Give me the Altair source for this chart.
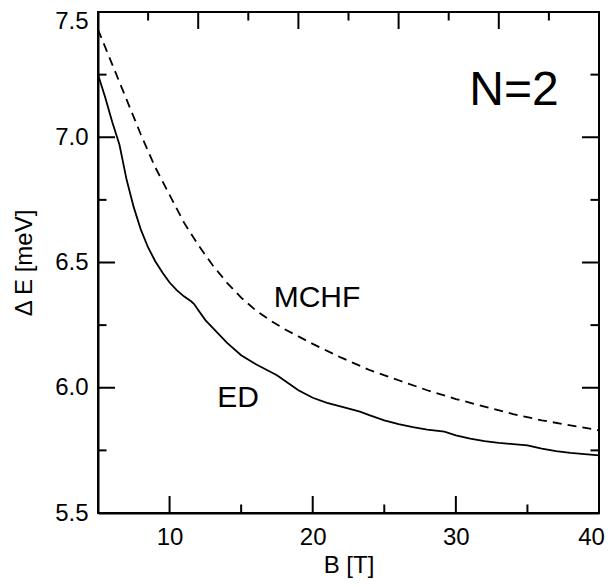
import altair as alt
import pandas as pd

# ED (exact diagonalization) curve
ed_b = [5, 5.5, 6, 6.5, 7, 7.5, 8, 8.5, 9, 9.5, 10, 10.5, 11, 11.5, 11.7, 12, 12.5, 13, 14, 15, 16, 17, 17.5,
        18, 19, 20, 21, 22, 23.3, 24, 25, 26, 27, 28, 29.2, 30, 31, 32, 33, 34, 35, 36, 37, 38, 39, 40]
ed_e = [7.25, 7.16, 7.06, 6.97, 6.83, 6.72, 6.63, 6.56, 6.505, 6.46, 6.42, 6.39, 6.365, 6.345, 6.335, 6.31, 6.27,
        6.24, 6.18, 6.13, 6.095, 6.065, 6.05, 6.03, 5.99, 5.96, 5.94, 5.925, 5.905, 5.89, 5.87, 5.855, 5.843, 5.833,
        5.825, 5.81, 5.797, 5.787, 5.78, 5.775, 5.77, 5.757, 5.747, 5.74, 5.735, 5.73]

# MCHF curve
mchf_b = [5, 6, 7, 8, 9, 10, 11, 12, 13, 14, 15, 16, 17, 18, 19, 20, 22, 24, 26, 28, 30, 32, 34, 36, 38, 40]
mchf_e = [7.43, 7.29, 7.15, 7.01, 6.88, 6.77, 6.66, 6.57, 6.49, 6.42, 6.36, 6.31, 6.27, 6.235, 6.205, 6.175,
          6.12, 6.07, 6.03, 5.99, 5.955, 5.925, 5.895, 5.87, 5.85, 5.83]

x_labels = [10, 20, 30, 40]
y_labels = [5.5, 6.0, 6.5, 7.0, 7.5]
x_major_bottom = [5, 10, 20, 30, 40]
x_minor_bottom = [15, 25, 35]
x_major_top = [5, 12, 19, 26, 33, 40]
x_minor_top = [8.5, 15.5, 22.5, 29.5, 36.5]
y_major = [5.5, 6.0, 6.5, 7.0, 7.5]
y_minor = [5.75, 6.25, 6.75, 7.25]

annot_text = ["MCHF", "ED"]
annot_x = [20.3, 14.78]
annot_y = [6.322, 5.923]
title_text = ["N=2"]
title_x = [34.06]
title_y = [7.129]

W, H = 501, 501
FONT = "Liberation Sans"

xs = alt.Scale(domain=[5, 40], nice=False, zero=False)
ys = alt.Scale(domain=[5.5, 7.5], nice=False, zero=False)

ed_df = pd.DataFrame({"B": ed_b, "E": ed_e})
mchf_df = pd.DataFrame({"B": mchf_b, "E": mchf_e})

base_x = alt.X("B:Q", scale=xs, title="B [T]",
               axis=alt.Axis(values=x_labels, ticks=False, grid=False, labelFontSize=24, labelFont=FONT,
                             labelColor="black", labelPadding=12, titleFont=FONT, titleFontSize=24,
                             titleFontWeight="normal", titleColor="black", titlePadding=4,
                             labelOffset={"condition": {"test": "datum.value >= 40", "value": -8}, "value": 0},
                             domainColor="black", domainWidth=2, format="d", labelFlush=False))
base_y = alt.Y("E:Q", scale=ys, title="Δ E [meV]",
               axis=alt.Axis(values=y_labels, ticks=False, grid=False, labelFontSize=24, labelFont=FONT,
                             labelColor="black", labelPadding=10, titleFont=FONT, titleFontSize=24,
                             titleFontWeight="normal", titleColor="black", titlePadding=18,
                             labelOffset={"condition": {"test": "datum.value >= 7.5", "value": 9}, "value": 0},
                             domainColor="black", domainWidth=2, format=".1f", labelFlush=False))

ed_line = alt.Chart(ed_df).mark_line(color="black", strokeWidth=1.8, clip=True).encode(x=base_x, y=base_y)
mchf_line = alt.Chart(mchf_df).mark_line(color="black", strokeWidth=1.8, strokeDash=[9, 6], clip=True).encode(
    x=alt.X("B:Q", scale=xs), y=alt.Y("E:Q", scale=ys))


def xticks(vals, y0, y1):
    return alt.Chart(pd.DataFrame({"B": vals})).mark_rule(color="black", strokeWidth=2).encode(
        x=alt.X("B:Q", scale=xs), y=alt.value(y0), y2=alt.value(y1))


def yticks(vals, x0, x1):
    return alt.Chart(pd.DataFrame({"E": vals})).mark_rule(color="black", strokeWidth=2).encode(
        y=alt.Y("E:Q", scale=ys), x=alt.value(x0), x2=alt.value(x1))


MAJ, MIN = 17, 8.5
ticks = [
    xticks(x_major_bottom, H, H - MAJ), xticks(x_minor_bottom, H, H - MIN),
    xticks(x_major_top, 0, MAJ), xticks(x_minor_top, 0, MIN),
    yticks(y_major, 0, MAJ), yticks(y_minor, 0, MIN),
    yticks(y_major, W, W - MAJ), yticks(y_minor, W, W - MIN),
]

annot = alt.Chart(pd.DataFrame({"B": annot_x, "E": annot_y, "t": annot_text})).mark_text(
    font=FONT, fontSize=30, color="black", align="center", baseline="alphabetic").encode(
    x=alt.X("B:Q", scale=xs), y=alt.Y("E:Q", scale=ys), text="t:N")

ntitle = alt.Chart(pd.DataFrame({"B": title_x, "E": title_y, "t": title_text})).mark_text(
    font=FONT, fontSize=48, color="black", align="center", baseline="alphabetic").encode(
    x=alt.X("B:Q", scale=xs), y=alt.Y("E:Q", scale=ys), text="t:N")

chart = alt.layer(ed_line, mchf_line, *ticks, annot, ntitle).properties(
    width=W, height=H,
    autosize=alt.AutoSizeParams(type="none"),
    padding={"left": 90, "top": 4, "right": 6, "bottom": 66},
    background="white",
).configure_view(stroke="black", strokeWidth=2)

chart.save("out.html", embed_options={"renderer": "svg", "actions": False})
